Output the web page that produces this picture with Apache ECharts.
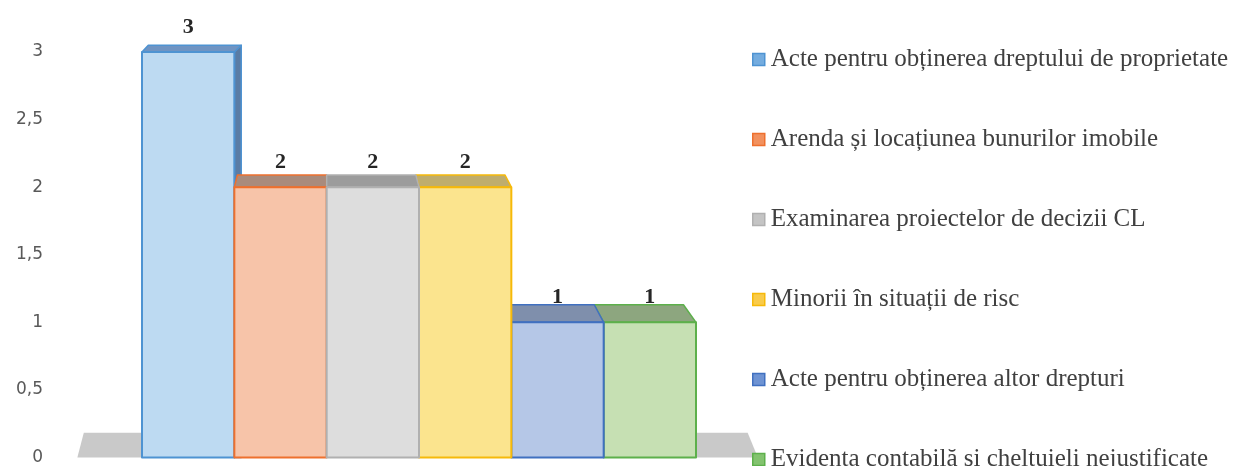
<!DOCTYPE html>
<html>
<head>
<meta charset="utf-8">
<script src="https://cdn.jsdelivr.net/npm/echarts@6/dist/echarts.min.js"></script>
<style>
html,body{margin:0;padding:0;background:#fff;}
#chart{width:1243px;height:466px;}
</style>
</head>
<body>
<div id="chart"></div>
<script>
// ---- data ----
const categories = [
  'Acte pentru obținerea dreptului de proprietate',
  'Arenda și locațiunea bunurilor imobile',
  'Examinarea proiectelor de decizii CL',
  'Minorii în situații de risc',
  'Acte pentru obținerea altor drepturi',
  'Evidența contabilă și cheltuieli nejustificate'
];
const values = [3, 2, 2, 2, 1, 1];
const yMin = 0, yMax = 3, yStep = 0.5;

// ---- styles ----
const frontColors  = ['#BDDAF2', '#F7C4A9', '#DDDDDD', '#FBE48E', '#B5C7E7', '#C6E0B3'];
const borderColors = ['#4E93D2', '#EE702E', '#B0B0B0', '#F6B90A', '#4070C0', '#5DB04B'];
const topColors    = ['#6F94C3', '#A98B7C', '#9C9C9C', '#BFAD6D', '#7F8FAC', '#8DA67F'];
const sideColors   = ['#5A7CA5', '#8C6E5E', '#858585', '#A8964F', '#5F6F8E', '#6F8A60'];
const iconColors   = ['#74ACDF', '#F2915E', '#C4C4C4', '#F9CB4A', '#6E93D3', '#83C36F'];

const chart = echarts.init(document.getElementById('chart'), null, {renderer: 'canvas'});

const TX = 0.034;      // horizontal depth fraction toward vanishing point
const TY = 0.04;       // vertical depth fraction toward vanishing point
const VY_VALUE = 4.25; // vanishing point height, in axis units

function vanish(api) {
  const vx = (api.coord([1, 0])[0] + api.coord([2, 0])[0]) / 2;
  const vy = api.coord([0, VY_VALUE])[1];
  return [vx, vy];
}
function backOf(p, V, tx, ty) {
  return [p[0] + tx * (V[0] - p[0]), p[1] + ty * (V[1] - p[1])];
}

function barRender(params, api) {
  const idx = api.value(0);
  const v = api.value(1);
  const base = api.coord([idx, 0]);
  const top = api.coord([idx, v]);
  const w = api.size([1, 0])[0];
  const L = base[0] - w / 2, R = base[0] + w / 2;
  const V = vanish(api);
  const zBase = Math.round(2000 - Math.abs(base[0] - V[0]));
  const i = params.seriesIndex - 1;
  const children = [];
  const lt = [L, top[1]], rt = [R, top[1]], lb = [L, base[1]], rb = [R, base[1]];
  const rtB = backOf(rt, V, TX * 2.2, TY);
  const edge = {lineJoin: 'round', lineCap: 'round'};
  if (R < V[0] - 2) {
    children.push({type: 'polygon', z2: zBase,
      shape: {points: [rt, rtB, [rtB[0], rb[1]], rb]},
      style: Object.assign({fill: sideColors[i], stroke: borderColors[i], lineWidth: 1.5}, edge)});
  }
  if (L > V[0] + 2) {
    children.push({type: 'polygon', z2: zBase,
      shape: {points: [lt, backOf(lt, V, TX, TY), backOf(lb, V, TX, TY), lb]},
      style: Object.assign({fill: sideColors[i]}, edge)});
  }
  const topR = R < V[0] ? rtB : backOf(rt, V, TX, TY);
  children.push({type: 'polygon', z2: zBase + 1,
    shape: {points: [lt, rt, topR, backOf(lt, V, TX, TY)]},
    style: Object.assign({fill: topColors[i], stroke: borderColors[i], lineWidth: 1.5}, edge)});
  children.push({type: 'polygon', z2: zBase + 2,
    shape: {points: [lt, rt, rb, lb]},
    style: Object.assign({fill: frontColors[i], stroke: borderColors[i], lineWidth: 2}, edge)});
  children.push({type: 'text', z2: 5000,
    style: {x: base[0], y: top[1] - 25, text: String(v), align: 'center', verticalAlign: 'middle',
      fill: '#262626', font: 'bold 22px "Liberation Serif", "Times New Roman", serif'}});
  return {type: 'group', children: children};
}

function floorRender(params, api) {
  const first = api.coord([0, 0]);
  const last = api.coord([categories.length - 1, 0]);
  const w = api.size([1, 0])[0];
  const V = vanish(api);
  const fl = [first[0] - w / 2 - 0.7 * w, first[1]];
  const fr = [last[0] + w / 2 + 0.67 * w, last[1]];
  const tf = 0.043;
  return {type: 'polygon', z2: 1,
    shape: {points: [fl, fr, backOf(fr, V, tf * 0.55, tf), backOf(fl, V, tf * 0.6, tf)]},
    style: {fill: '#C9C9C9'}};
}

const series = [{
  type: 'custom', name: 'floor', renderItem: floorRender, clip: false, silent: true,
  data: [[0, 0]], z: 1
}];
categories.forEach((name, i) => {
  series.push({
    type: 'custom', name: name, renderItem: barRender, clip: false, z: 2,
    itemStyle: {color: iconColors[i]},
    encode: {x: 0, y: 1},
    data: [[i, values[i]]]
  });
});

chart.setOption({
  animation: false,
  backgroundColor: '#ffffff',
  grid: {left: 142, right: 547, top: 52, bottom: 8},
  xAxis: {
    type: 'category', data: categories.map((c, i) => i),
    boundaryGap: true, show: false
  },
  yAxis: {
    type: 'value', min: yMin, max: yMax, interval: yStep,
    axisLine: {show: false}, axisTick: {show: false}, splitLine: {show: false},
    axisLabel: {
      margin: 99, color: '#595959', fontSize: 17, fontFamily: '"DejaVu Sans", sans-serif',
      formatter: (val) => String(val).replace('.', ',')
    }
  },
  legend: {
    orient: 'vertical', left: 752, top: 47, height: 440, padding: 0,
    itemWidth: 12, itemHeight: 12, itemGap: 55,
    icon: 'rect',
    textStyle: {fontFamily: '"Liberation Serif", "Times New Roman", serif', fontSize: 25, color: '#404040', lineHeight: 24, padding: [0, 0, 0, 1]},
    data: categories.map((c, i) => ({
      name: c, icon: 'rect',
      itemStyle: {color: iconColors[i], borderColor: borderColors[i], borderWidth: 1.5}
    }))
  },
  series: series
});
</script>
</body>
</html>
